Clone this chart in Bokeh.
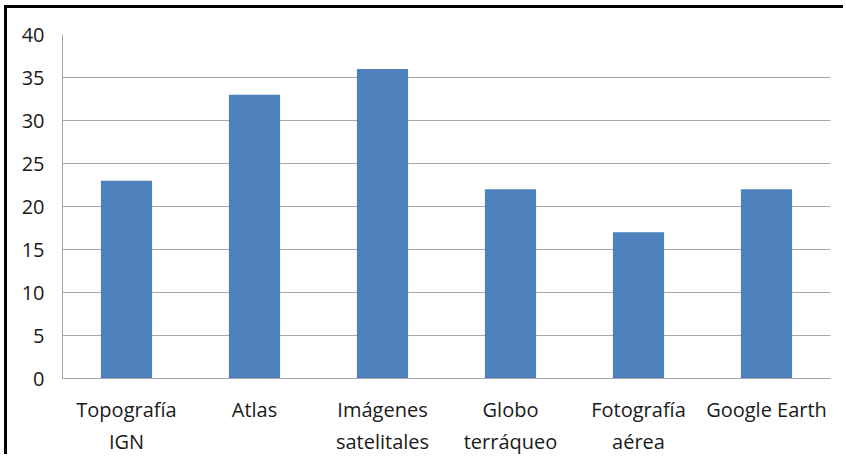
from bokeh.plotting import figure
from bokeh.models import Range1d, FactorRange, FixedTicker
from bokeh.embed import file_html
from bokeh.resources import INLINE

categories = ["Topografía\nIGN", "Atlas", "Imágenes\nsatelitales", "Globo\nterráqueo", "Fotografía\naérea", "Google Earth"]
values = [23, 33, 36, 22, 17, 22]
y_ticks = [0, 5, 10, 15, 20, 25, 30, 35, 40]

FONT = "Open Sans"

# the chart sits in a frame whose left and top edges show
p = figure(
    width=839, height=449,
    x_range=FactorRange(*categories, range_padding=0),
    y_range=Range1d(0, 40),
    output_backend="svg", toolbar_location=None,
    min_border_left=55, min_border_right=16, min_border_top=26, min_border_bottom=72,
    margin=(5, 0, 0, 4),
    styles={"border-left": "3px solid black", "border-top": "3px solid black"},
)
p.x_range.factor_padding = 0

p.vbar(x=categories, top=values, width=0.4, color="#4F81BD", line_color=None)

p.outline_line_color = None
p.background_fill_color = "white"
p.border_fill_color = "white"

p.xgrid.grid_line_color = None
p.ygrid.grid_line_color = "#A6A6A6"
p.ygrid.grid_line_width = 1
p.ygrid.ticker = FixedTicker(ticks=y_ticks)

p.yaxis.ticker = FixedTicker(ticks=y_ticks)
p.yaxis.axis_line_color = "#A6A6A6"
p.yaxis.major_tick_line_color = None
p.yaxis.major_tick_out = 0
p.yaxis.minor_tick_line_color = None
p.yaxis.major_label_text_font = FONT
p.yaxis.major_label_text_font_size = "20px"
p.yaxis.major_label_text_color = "#1A1A1A"
p.yaxis.major_label_standoff = 18

p.xaxis.axis_line_color = "#A6A6A6"
p.xaxis.major_tick_line_color = None
p.xaxis.major_tick_out = 0
p.xaxis.major_label_text_font = FONT
p.xaxis.major_label_text_font_size = "20px"
p.xaxis.major_label_text_color = "#1A1A1A"
p.xaxis.major_label_standoff = 17

open("out.html", "w").write(file_html(p, INLINE))
